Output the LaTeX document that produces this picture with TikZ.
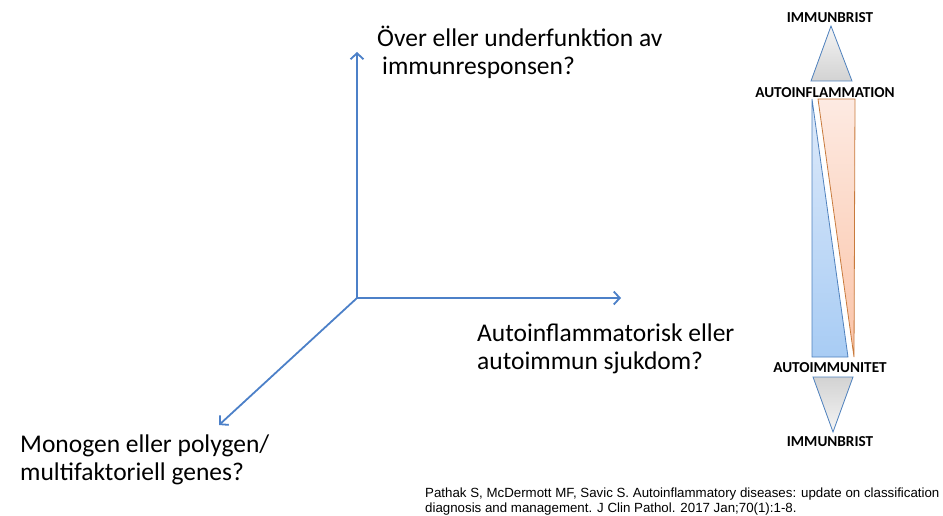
\documentclass[tikz,border=0pt]{standalone}
\usepackage{fontspec}
\setmainfont{Carlito}
\newfontfamily\citefont{Liberation Sans}
\usetikzlibrary{arrows.meta}
\definecolor{axisblue}{RGB}{76,128,200}
\definecolor{triblue}{RGB}{79,129,189}
\definecolor{triorange}{RGB}{200,122,60}
\tikzset{
  axis/.style={draw=axisblue, line width=1.8pt, -{Straight Barb[length=6pt,width=13pt]}},
  qtext/.style={anchor=base west, inner sep=0pt, align=left, font=\fontsize{25.5}{27.6}\selectfont},
  lvl/.style={inner sep=0pt, font=\fontsize{15.2}{17}\selectfont\bfseries},
}
\begin{document}
\begin{tikzpicture}[x=1pt, y=-1pt]
\useasboundingbox (0,0) rectangle (943,516);
\coordinate (ax0) at (357,298);
\coordinate (ax1) at (357,52);
\coordinate (ax2) at (621,298);
\coordinate (ax3) at (219,425);
\draw[axis](ax0) -- (ax1);
\draw[axis](ax0) -- (ax2);
\draw[axis](ax0) -- (ax3);
\node[qtext] (q1) at (377,74.5) {Över eller underfunktion av\\\hspace*{5pt}immunresponsen?};
\node[qtext] (q2) at (477,369.5) {Autoinflammatorisk eller\\autoimmun sjukdom?};
\node[qtext] (q3) at (20,480) {Monogen eller polygen/\\multifaktoriell genes?};
\node[lvl] (ib1) at (830,18) {IMMUNBRIST};
\node[lvl] (ai) at (825,92.5) {AUTOINFLAMMATION};
\node[lvl] (am) at (830,368) {AUTOIMMUNITET};
\node[lvl] (ib2) at (830,442) {IMMUNBRIST};
\shadedraw[draw=triblue, line width=0.8pt, top color=gray!8, bottom color=gray!35] (831,26) -- (811,81) -- (852,81) -- cycle;
\shadedraw[draw=triblue, line width=0.8pt, top color=gray!35, bottom color=gray!8] (813,377) -- (853,377) -- (833,432) -- cycle;
\shadedraw[draw=triblue, line width=0.8pt, top color={rgb,255:red,222;green,234;blue,250}, bottom color={rgb,255:red,168;green,204;blue,244}] (812,99) -- (812,357) -- (848,357) -- cycle;
\shadedraw[draw=triorange, line width=0.8pt, top color={rgb,255:red,253;green,234;blue,226}, bottom color={rgb,255:red,251;green,196;blue,168}] (818,99) -- (855,99) -- (854,357) -- cycle;
\node[anchor=base west, inner sep=0pt, align=left, font=\citefont\fontsize{13.3}{15}\selectfont] (cite) at (425,512) {Pathak S, McDermott MF, Savic S. Autoinflammatory diseases: update on classification\\diagnosis and management. J Clin Pathol. 2017 Jan;70(1):1-8.};
\end{tikzpicture}
\end{document}
